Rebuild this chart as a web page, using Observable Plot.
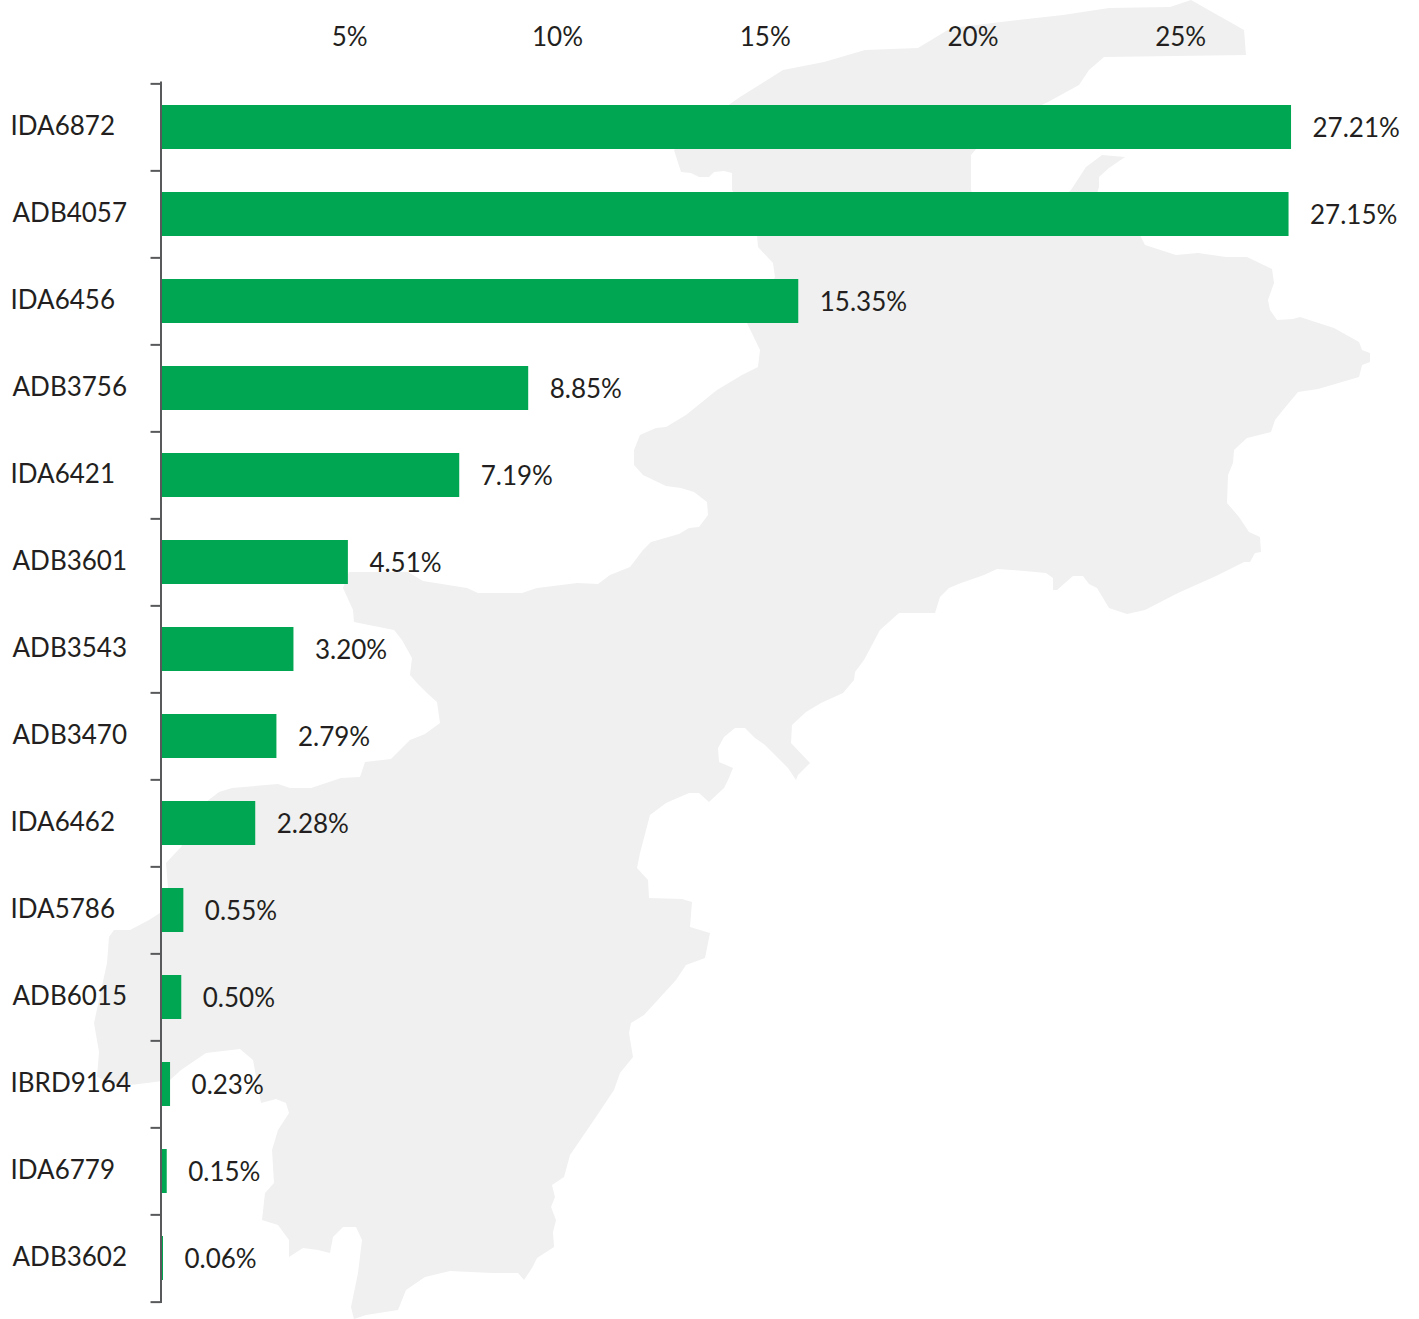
<!DOCTYPE html>
<html>
<head>
<meta charset="utf-8">
<style>html,body{margin:0;padding:0;background:#fff}</style>
<script src="https://cdn.jsdelivr.net/npm/d3@7"></script>
<script src="https://cdn.jsdelivr.net/npm/@observablehq/plot@0.6"></script>
</head>
<body>
<div id="chart"></div>
<script>
const projects = ["IDA6872","ADB4057","IDA6456","ADB3756","IDA6421","ADB3601","ADB3543","ADB3470","IDA6462","IDA5786","ADB6015","IBRD9164","IDA6779","ADB3602"];
const shares = [27.21,27.15,15.35,8.85,7.19,4.51,3.20,2.79,2.28,0.55,0.50,0.23,0.15,0.06];
const shareLabels = ["27.21%","27.15%","15.35%","8.85%","7.19%","4.51%","3.20%","2.79%","2.28%","0.55%","0.50%","0.23%","0.15%","0.06%"];
const axisTicks = [5,10,15,20,25];
// Decorative country silhouette behind the bars.
const silhouette = [[740,97],[783,70],[824,62],[865,50],[918,48],[951,28],[1018,20],[1063,15],[1109,8],[1170,7],[1191,0],[1244,30],[1246,55],[1104,57],[1089,70],[1079,85],[1048,102],[1000,125],[977,148],[971,155],[971,190],[975,200],[1060,200],[1071,190],[1086,167],[1102,155],[1125,157],[1109,168],[1099,177],[1099,187],[1095,200],[1140,235],[1145,245],[1176,255],[1198,253],[1226,257],[1247,257],[1272,269],[1274,283],[1268,300],[1270,310],[1277,320],[1293,319],[1300,317],[1334,328],[1359,342],[1362,350],[1370,353],[1370,362],[1362,365],[1359,377],[1318,389],[1298,392],[1283,410],[1275,420],[1271,432],[1247,438],[1234,450],[1233,463],[1228,475],[1227,503],[1239,517],[1249,532],[1260,537],[1261,552],[1255,553],[1250,562],[1244,562],[1216,576],[1178,593],[1145,610],[1127,614],[1109,608],[1097,588],[1089,584],[1083,576],[1073,576],[1057,590],[1053,590],[1053,578],[1046,573],[1012,570],[997,569],[984,575],[961,583],[949,588],[940,597],[935,613],[899,613],[880,630],[864,660],[855,672],[854,680],[843,693],[821,703],[806,712],[792,725],[791,743],[810,763],[798,775],[796,780],[788,768],[765,745],[755,738],[745,728],[735,728],[724,737],[718,748],[719,762],[733,768],[728,780],[724,788],[709,802],[699,793],[689,793],[666,803],[650,815],[640,853],[637,868],[648,880],[649,898],[682,899],[692,902],[690,927],[710,933],[705,958],[686,965],[676,980],[644,1015],[631,1023],[629,1033],[633,1057],[620,1073],[614,1090],[596,1117],[570,1155],[564,1177],[552,1185],[555,1197],[551,1207],[556,1220],[553,1232],[554,1247],[537,1258],[532,1268],[524,1280],[518,1273],[492,1273],[450,1271],[425,1277],[406,1290],[398,1310],[366,1315],[354,1319],[351,1307],[358,1273],[362,1240],[356,1227],[343,1227],[333,1237],[330,1253],[318,1250],[303,1248],[289,1257],[289,1240],[278,1225],[262,1220],[265,1193],[274,1183],[272,1150],[278,1130],[289,1113],[286,1103],[276,1099],[261,1103],[253,1060],[240,1049],[206,1053],[181,1070],[170,1080],[147,1083],[122,1086],[97,1077],[99,1052],[94,1023],[107,963],[109,937],[114,930],[130,930],[149,920],[160,913],[168,900],[168,888],[166,863],[181,847],[190,830],[206,802],[219,792],[232,788],[278,784],[290,788],[311,788],[341,778],[360,777],[365,762],[391,759],[410,740],[425,734],[440,723],[437,702],[427,693],[417,683],[410,675],[412,658],[402,640],[394,630],[354,622],[353,610],[343,588],[349,572],[408,572],[423,581],[467,588],[478,593],[522,593],[537,588],[577,583],[598,584],[610,575],[630,567],[643,550],[651,542],[679,534],[689,528],[699,527],[708,515],[707,502],[694,492],[681,488],[666,486],[643,475],[634,465],[634,450],[640,435],[656,428],[666,427],[686,415],[717,390],[742,375],[758,367],[760,350],[747,323],[775,277],[773,263],[758,247],[757,235],[732,190],[732,173],[724,171],[714,172],[709,177],[699,177],[691,173],[681,172],[674,150],[700,125]];

const rows = projects.map((project, i) => ({project, share: shares[i], label: shareLabels[i]}));
const last = projects[projects.length - 1];
const FONT = "Lato, 'Open Sans', sans-serif";
const INK = "#231f20";
const AXIS = "#58595b";
const SIZE = 26;

const chart = Plot.plot({
  width: 1419,
  height: 1319,
  marginLeft: 160.5,
  marginRight: 0,
  marginTop: 81.5,
  marginBottom: 16,
  style: {fontFamily: FONT, background: "transparent", overflow: "visible"},
  x: {domain: [0, 30.29]},
  y: {domain: projects, paddingInner: 0.5, paddingOuter: 0.25, axis: null},
  marks: [
    () => {
      const p = document.createElementNS("http://www.w3.org/2000/svg", "path");
      p.setAttribute("d", d3.line()(silhouette) + "Z");
      p.setAttribute("fill", "#f0f0f0");
      return p;
    },
    Plot.barX(rows, {x: "share", y: "project", fill: "#00a651"}),
    Plot.ruleY(projects, {y: d => d, x1: -0.24, x2: 0, dy: -43.63, stroke: AXIS, strokeWidth: 2}),
    Plot.ruleY([last], {y: d => d, x1: -0.24, x2: 0, dy: 43.63, stroke: AXIS, strokeWidth: 2}),
    Plot.ruleX([0], {stroke: AXIS, strokeWidth: 2}),
    Plot.axisX({anchor: "top", ticks: axisTicks, tickSize: 0, tickPadding: 36, dx: -19, tickFormat: d => d + "%", fontSize: SIZE, fill: INK, label: null}),
    Plot.text(rows.filter(d => d.project[0] === "I"), {y: "project", text: "project", frameAnchor: "left", textAnchor: "start", dx: -150.5, dy: -1, fontSize: SIZE, fill: INK}),
    Plot.text(rows.filter(d => d.project[0] === "A"), {y: "project", text: "project", frameAnchor: "left", textAnchor: "start", dx: -148.5, dy: -1, fontSize: SIZE, fill: INK}),
    Plot.text(rows, {x: "share", y: "project", text: "label", textAnchor: "start", dx: 21, dy: 1, fontSize: SIZE, fill: INK})
  ]
});
document.getElementById("chart").appendChild(chart);
</script>
</body>
</html>
